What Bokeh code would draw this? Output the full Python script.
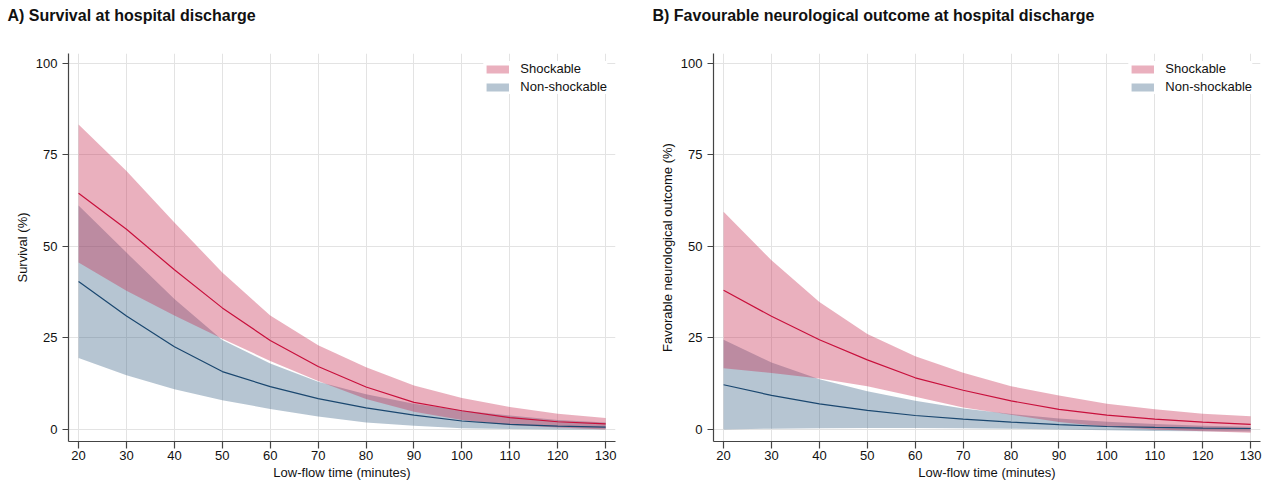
from bokeh.plotting import figure
from bokeh.layouts import row
from bokeh.models import Legend, LegendItem, FixedTicker, Range1d, Title
from bokeh.embed import file_html
from bokeh.resources import INLINE

# ---- data ----
low_flow = [20, 30, 40, 50, 60, 70, 80, 90, 100, 110, 120, 130]
x_ticks = [20, 30, 40, 50, 60, 70, 80, 90, 100, 110, 120, 130]
y_ticks = [0, 25, 50, 75, 100]

# Panel A: survival at hospital discharge (%)
surv_shock_upper = [83.3, 70.6, 56.5, 42.9, 31.1, 23.0, 17.0, 12.0, 8.6, 6.1, 4.3, 3.1]
surv_shock_mid   = [64.5, 54.7, 43.6, 33.2, 24.3, 17.2, 11.6, 7.4, 5.1, 3.2, 2.1, 1.5]
surv_shock_lower = [45.6, 37.9, 31.1, 24.8, 18.7, 13.2, 8.3, 4.8, 2.6, 1.2, 0.5, 0.0]
surv_non_upper   = [61.2, 48.3, 35.6, 24.4, 18.0, 13.0, 9.6, 7.0, 5.2, 3.8, 2.6, 1.9]
surv_non_mid     = [40.4, 31.0, 22.6, 15.8, 11.7, 8.4, 5.9, 3.9, 2.3, 1.4, 0.9, 0.6]
surv_non_lower   = [19.5, 14.8, 11.0, 8.0, 5.6, 3.5, 1.9, 1.0, 0.3, 0.1, 0.0, 0.0]

# Panel B: favourable neurological outcome (%)
neuro_shock_upper = [59.5, 46.2, 34.8, 26.1, 20.0, 15.5, 11.8, 9.3, 7.0, 5.5, 4.3, 3.6]
neuro_shock_mid   = [38.0, 30.9, 24.5, 19.0, 14.1, 10.7, 7.8, 5.5, 3.9, 2.8, 2.0, 1.4]
neuro_shock_lower = [16.7, 15.4, 13.9, 11.8, 8.9, 6.0, 4.0, 2.0, 0.7, 0.0, -0.5, -0.9]
neuro_non_upper   = [24.5, 18.3, 13.7, 10.4, 7.8, 5.7, 4.2, 3.0, 2.1, 1.5, 1.0, 0.7]
neuro_non_mid     = [12.2, 9.3, 7.0, 5.2, 3.8, 2.8, 2.0, 1.3, 0.8, 0.55, 0.35, 0.25]
neuro_non_lower   = [0.0, 0.2, 0.3, 0.4, 0.4, 0.3, 0.2, 0.0, -0.2, -0.4, -0.5, -0.6]

series_labels = ["Shockable", "Non-shockable"]

FONT = "Liberation Sans"
PINK_FILL = "#c6294f"
PINK_LINE = "#c8103c"
BLUE_FILL = "#3a6285"
BLUE_LINE = "#1a476f"
BAND_ALPHA = 0.37


def make_panel(title, ylabel, s_lo, s_mid, s_hi, n_lo, n_mid, n_hi, width, border_left, border_right):
    p = figure(width=width, height=482,
               x_range=Range1d(17.9, 132.05), y_range=Range1d(-3.3, 102.7),
               output_backend="svg", toolbar_location=None,
               min_border_left=border_left, min_border_right=border_right,
               min_border_top=53, min_border_bottom=41)
    p.outline_line_color = None
    p.background_fill_color = "white"
    p.border_fill_color = "white"

    # real title (outermost), with a small spacer title between it and the frame
    p.title.text = title
    p.title.text_font = FONT
    p.title.text_font_size = "16px"
    p.title.text_font_style = "bold"
    p.title.text_color = "#111111"
    p.title.align = "left"
    p.title.offset = -61
    p.title.standoff = 0
    p.add_layout(Title(text=" ", text_font_size="1px", standoff=27), "above")

    blue_area = p.varea(x=low_flow, y1=n_lo, y2=n_hi, fill_color=BLUE_FILL, fill_alpha=BAND_ALPHA)
    pink_area = p.varea(x=low_flow, y1=s_lo, y2=s_hi, fill_color=PINK_FILL, fill_alpha=BAND_ALPHA)
    p.line(low_flow, n_mid, line_color=BLUE_LINE, line_width=1.2)
    p.line(low_flow, s_mid, line_color=PINK_LINE, line_width=1.2)

    for ax in (p.xaxis[0], p.yaxis[0]):
        ax.axis_line_color = "#444444"
        ax.axis_line_width = 1.2
        ax.major_tick_line_color = "#444444"
        ax.major_tick_line_width = 1.2
        ax.major_tick_in = 0
        ax.minor_tick_line_color = None
        ax.major_label_text_font = FONT
        ax.major_label_text_font_size = "13px"
        ax.major_label_text_color = "#111111"
        ax.axis_label_text_font = FONT
        ax.axis_label_text_font_size = "13px"
        ax.axis_label_text_font_style = "normal"
        ax.axis_label_text_color = "#111111"

    p.xaxis.ticker = FixedTicker(ticks=x_ticks)
    p.yaxis.ticker = FixedTicker(ticks=y_ticks)
    p.xaxis.major_tick_out = 7
    p.yaxis.major_tick_out = 6
    p.xaxis.major_label_standoff = 2
    p.yaxis.major_label_standoff = 5
    p.xaxis.axis_label = "Low-flow time (minutes)"
    p.yaxis.axis_label = ylabel
    p.xaxis.axis_label_standoff = 2
    p.yaxis.axis_label_standoff = 3

    p.xgrid.ticker = FixedTicker(ticks=x_ticks)
    p.ygrid.ticker = FixedTicker(ticks=y_ticks)
    p.grid.grid_line_color = "#e3e3e3"
    p.grid.grid_line_width = 1

    legend = Legend(items=[LegendItem(label=series_labels[0], renderers=[pink_area]),
                           LegendItem(label=series_labels[1], renderers=[blue_area])],
                    location="top_right")
    legend.margin = 8
    legend.padding = 5
    legend.spacing = 3
    legend.glyph_width = 28
    legend.glyph_height = 10
    legend.label_height = 14
    legend.label_standoff = 9
    legend.label_text_font = FONT
    legend.label_text_font_size = "13px"
    legend.label_text_color = "#111111"
    legend.border_line_color = None
    legend.background_fill_color = "white"
    legend.background_fill_alpha = 1.0
    p.add_layout(legend)
    return p


pA = make_panel("A) Survival at hospital discharge", "Survival (%)",
                surv_shock_lower, surv_shock_mid, surv_shock_upper,
                surv_non_lower, surv_non_mid, surv_non_upper,
                width=653, border_left=68, border_right=38)
pB = make_panel("B) Favourable neurological outcome at hospital discharge",
                "Favorable neurological outcome (%)",
                neuro_shock_lower, neuro_shock_mid, neuro_shock_upper,
                neuro_non_lower, neuro_non_mid, neuro_non_upper,
                width=612, border_left=60, border_right=5)

layout = row(pA, pB)
open("out.html", "w").write(file_html(layout, INLINE))
